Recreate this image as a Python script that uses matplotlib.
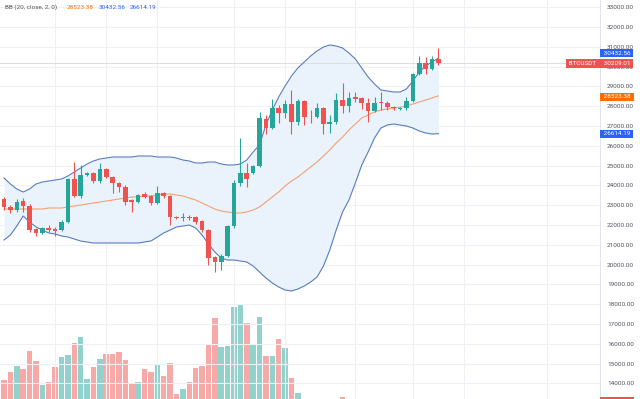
import matplotlib
matplotlib.use("Agg")
import matplotlib.pyplot as plt
from matplotlib.patches import Rectangle
import numpy as np

# BTCUSDT daily candles
opens = [23314, 22909, 22758, 23212, 22960, 21798, 21596, 21848, 21798, 21747,
         22151, 24324, 23465, 24526, 24627, 24223, 24829, 24425, 24122, 23920,
         23263, 23162, 23566, 23465, 23111, 23617, 23465, 22404, 22353, 22404,
         22404, 22200, 21747, 20383, 20130, 20433, 21949, 24122, 24627, 24627,
         24981, 27356, 26901, 27912, 27659, 28114, 27204, 28265, 27457, 27457,
         27912, 27103, 27204, 28316, 28013, 28468, 28417, 28164, 27760, 28164,
         28164, 27962, 27861, 27912, 28265, 29630, 30186, 29882, 30388]
highs = [23415, 23010, 23314, 23364, 23060, 21848, 21900, 22000, 21900, 22250,
         24380, 25183, 25030, 24680, 24680, 25130, 24880, 24475, 24170, 24020,
         23314, 23566, 23670, 23516, 23970, 23670, 23516, 22455, 22606, 22500,
         22455, 22250, 21798, 20433, 20530, 22000, 24274, 26396, 25130, 25030,
         27710, 27560, 28367, 28063, 28316, 28821, 28367, 28316, 27810, 28164,
         27962, 27560, 28670, 29175, 28720, 28720, 28468, 28417, 28468, 28720,
         28265, 28013, 27962, 28468, 29680, 30539, 30490, 30539, 30944]
lows = [22758, 22606, 22657, 22657, 21646, 21444, 21550, 21646, 21444, 21697,
        22100, 23415, 23364, 24480, 24122, 24122, 24370, 23617, 23670, 23010,
        22657, 23111, 23364, 23010, 23060, 23364, 22000, 22300, 22200, 22250,
        22050, 21646, 19979, 19625, 19730, 20383, 21848, 23970, 23920, 24580,
        24930, 26598, 26850, 27154, 27406, 26598, 27053, 27053, 27154, 27406,
        26598, 26650, 27103, 27659, 27710, 28215, 27861, 27204, 27710, 27810,
        27810, 27810, 27810, 27810, 28215, 29580, 29630, 29830, 30085]
closes = [22909, 22758, 23162, 22960, 21747, 21596, 21848, 21747, 21697, 22151,
          24324, 23465, 24526, 24627, 24223, 24829, 24425, 24122, 23920, 23162,
          23162, 23516, 23415, 23111, 23617, 23465, 22404, 22353, 22404, 22353,
          22151, 21747, 20332, 20130, 20433, 21949, 24122, 24627, 24324, 24981,
          27406, 26901, 27912, 27659, 28114, 27204, 28265, 27457, 27440, 27912,
          27103, 27204, 28316, 28013, 28417, 28367, 28164, 27760, 28164, 28150,
          27962, 27912, 27912, 28265, 29630, 30186, 29882, 30388, 30209]
volumes = [39000, 47300, 53300, 49700, 68300, 58300, 34000, 37300, 51700, 61700,
           64000, 75700, 82300, 39700, 52300, 59700, 64700, 64700, 67300, 59000,
           35700, 37300, 50000, 46700, 54700, 43000, 55700, 25000, 30000, 37300,
           51300, 53000, 74700, 101300, 72300, 73000, 112300, 114000, 95700, 74000,
           102300, 63300, 63300, 79700, 71300, 40700, 26300, 15000, 12000, 14000,
           18000, 13000, 17000, 22000, 16000, 11000, 12000, 15000, 13000, 10000,
           9000, 8000, 8000, 12000, 19000, 17000, 14000, 13000, 6000]

# Bollinger Bands (20, close, 2) as drawn
bb_upper = [24375, 24071, 23819, 23667, 23819, 24071, 24173, 24223, 24274, 24324,
            24476, 24678, 24880, 25082, 25234, 25335, 25385, 25436, 25436, 25436,
            25436, 25486, 25486, 25486, 25436, 25436, 25436, 25385, 25284, 25234,
            25133, 25133, 25183, 25183, 25082, 25032, 25032, 25082, 25284, 25688,
            26042, 27053, 27811, 28468, 29023, 29529, 29933, 30236, 30539, 30792,
            30994, 31095, 31045, 30944, 30691, 30388, 29933, 29478, 29124, 28821,
            28771, 28721, 28721, 28872, 29276, 29731, 30034, 30236, 30432]
bb_basis = [22808, 22808, 22808, 22808, 22808, 22808, 22808, 22859, 22859, 22859,
            22909, 22960, 23010, 23061, 23111, 23162, 23212, 23263, 23314, 23364,
            23415, 23415, 23465, 23465, 23516, 23566, 23566, 23516, 23465, 23364,
            23263, 23111, 22960, 22808, 22707, 22657, 22606, 22606, 22657, 22758,
            22909, 23162, 23415, 23667, 23970, 24223, 24425, 24678, 24931, 25183,
            25486, 25789, 26143, 26446, 26800, 27103, 27406, 27558, 27710, 27811,
            27861, 27912, 27962, 28013, 28114, 28215, 28316, 28417, 28523]
bb_lower = [21242, 21495, 21949, 22454, 22151, 21899, 21747, 21596, 21545, 21444,
            21393, 21292, 21191, 21141, 21090, 21090, 21090, 21090, 21090, 21090,
            21090, 21090, 21141, 21191, 21393, 21596, 21747, 21899, 21949, 22000,
            21848, 21495, 21040, 20635, 20332, 20231, 20231, 20181, 20130, 19928,
            19625, 19322, 19069, 18867, 18715, 18665, 18766, 18917, 19119, 19372,
            19928, 20737, 21747, 22657, 23263, 24122, 25032, 25688, 26396, 26901,
            27053, 27103, 27053, 27002, 26901, 26750, 26649, 26598, 26614]

price_ticks = list(range(14000, 34000, 1000))
time_grid = [8, 16, 24, 36, 44, 55, 64, 72, 85]
last_price = 30209.01
bb_values = (28523.38, 30432.56, 26614.19)

UP = "#26a69a"
DOWN = "#ef5350"
UP_VOL = "#92d2cc"
DOWN_VOL = "#f7a9a8"
BAND = "#5a7cc0"
BASIS = "#f2a173"
TEXT = "#50535e"
GRID = "#eef0f5"

plt.rcParams['font.family'] = ['Roboto', 'DejaVu Sans']

idx = np.arange(len(closes))
o = np.array(opens)
c = np.array(closes)
up = c >= o

fig = plt.figure(figsize=(6.4, 3.99), dpi=100)
rect = [0, 0, 600 / 640, 1]

# volume pane underneath
axv = fig.add_axes(rect)
axv.bar(idx, volumes, width=0.86, color=np.where(up, UP_VOL, DOWN_VOL), zorder=2)
axv.set_ylim(20000, 419000)
axv.set_xlim(-0.63, 93.3)
axv.axis("off")

ax = fig.add_axes(rect, sharex=axv)
ax.patch.set_visible(False)
ax.set_ylim(13208, 33369)

# bands
ax.fill_between(idx, bb_lower, bb_upper, color="#eaf3fb", lw=0, zorder=1)
ax.plot(idx, bb_upper, color=BAND, lw=0.8, zorder=2)
ax.plot(idx, bb_lower, color=BAND, lw=0.8, zorder=2)
ax.plot(idx, bb_basis, color=BASIS, lw=0.8, zorder=2)

# last price line
ax.axhline(last_price, color="#dddddd", lw=0.7, zorder=1.5)

# candles
cols = np.where(up, UP, DOWN)
ax.vlines(idx, lows, highs, colors=cols, lw=0.8, zorder=3)
body = np.maximum(np.abs(c - o), 40)
ax.bar(idx, body, bottom=np.minimum(o, c), width=0.72, color=cols, zorder=4)

# grid and price scale
ax.set_yticks(price_ticks)
ax.set_yticklabels([f"{v:.2f}" for v in price_ticks])
ax.set_xticks(time_grid)
ax.set_xticklabels([])
ax.grid(True, color=GRID, lw=0.8, zorder=0)
ax.set_axisbelow(True)
ax.yaxis.tick_right()
ax.tick_params(axis="y", length=0, pad=5, labelsize=4.6, labelcolor=TEXT)
ax.tick_params(axis="x", length=0)
for s in ["top", "left", "bottom"]:
    ax.spines[s].set_visible(False)
ax.spines["right"].set_color("#e0e3eb")
ax.spines["right"].set_linewidth(0.7)


def tag(y, text, color, dy=0, side="right"):
    if side == "right":
        xt, ha = 1.2, "left"
    else:
        xt, ha = -1.5, "right"
    ax.annotate(text, xy=(1, y), xycoords=("axes fraction", "data"),
                xytext=(xt, dy * 0.72), textcoords="offset points",
                ha=ha, va="center", color="white", fontsize=4.6,
                bbox=dict(boxstyle="square,pad=0.25", fc=color, ec="none"),
                annotation_clip=False, zorder=10)


tag(bb_values[1], f" {bb_values[1]:.2f} ", "#2962ff", dy=5)
tag(last_price, f" {last_price:.2f} ", DOWN, dy=-1)
tag(last_price, " BTCUSDT ", DOWN, dy=-1, side="left")
tag(bb_values[0], f" {bb_values[0]:.2f} ", "#ff6d00", dy=-1)
tag(bb_values[2], f" {bb_values[2]:.2f} ", "#2962ff")

# top edge of the volume value tag, cut off by the crop
fig.patches.append(Rectangle((600 / 640, 0), 34 / 640, 2.5 / 399,
                             transform=fig.transFigure, fc=DOWN, ec="none"))

# indicator legend
ly = 1 - 7.5 / 399
fig.text(5 / 640, ly, "BB (20, close, 2, 0)", fontsize=4.6, color=TEXT, va="center")
fig.text(67 / 640, ly, f"{bb_values[0]:.2f}", fontsize=4.6, color="#ff6d00", va="center")
fig.text(99 / 640, ly, f"{bb_values[1]:.2f}", fontsize=4.6, color="#2962ff", va="center")
fig.text(130 / 640, ly, f"{bb_values[2]:.2f}", fontsize=4.6, color="#2962ff", va="center")

fig.savefig("out.png", dpi=100)
